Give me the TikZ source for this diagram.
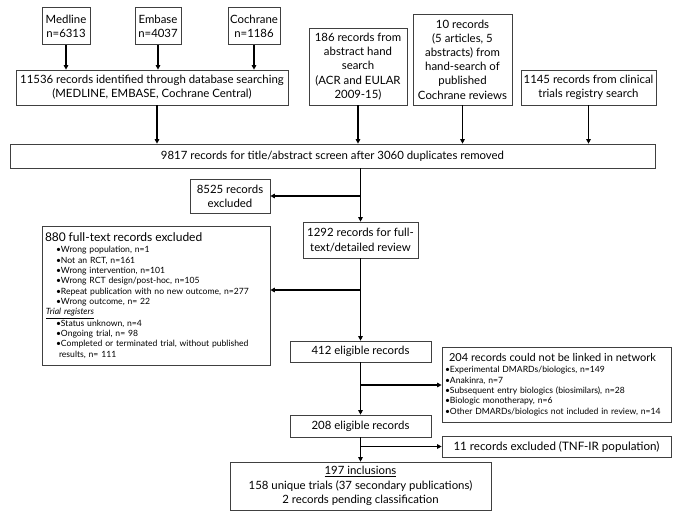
\documentclass[tikz,border=0pt]{standalone}
\usepackage{fontspec}
\setmainfont{Lato}
\usetikzlibrary{arrows.meta}
\newcommand{\smalllist}{\fontsize{8.6}{10.35}\selectfont}
\begin{document}
\begin{tikzpicture}[x=1pt,y=-1pt,
  box/.style={draw=black!75, line width=0.7pt, inner sep=1.5pt, align=center,
    font=\fontsize{11.4}{14.2}\selectfont},
  listbox/.style={draw=black!75, line width=0.7pt, inner sep=3pt, align=left,
    font=\smalllist},
  arr/.style={draw=black, line width=1.1pt, -{Triangle[length=4.5pt,width=4.5pt]}},
]
\useasboundingbox (0,0) rectangle (682,512);

% top sources
\node[box, minimum width=48, minimum height=37] (med) at (66,26) {Medline\\n=6313};
\node[box, minimum width=46, minimum height=37] (emb) at (158,26) {Embase\\n=4037};
\node[box, minimum width=52, minimum height=37] (coch) at (254,26) {Cochrane\\n=1186};
\node[box, minimum width=272, minimum height=35] (db) at (152,87.5) {11536 records identified through database searching\\(MEDLINE, EMBASE, Cochrane Central)};
\node[box, minimum width=98, minimum height=77] (abs) at (358,66.5) {186 records from\\abstract hand\\search\\(ACR and EULAR\\2009-15)};
\node[box, minimum width=99, minimum height=91] (hand) at (462.5,59.5) {10 records\\(5 articles, 5\\abstracts) from\\hand-search of\\published\\Cochrane reviews};
\node[box, minimum width=135, minimum height=35] (reg) at (588.5,87.5) {1145 records from clinical\\trials registry search};

% screening
\node[box, minimum width=645, minimum height=24] (screen) at (332.5,156) {9817 records for title/abstract screen after 3060 duplicates removed};
\node[box, minimum width=80, minimum height=34] (ex1) at (230,196) {8525 records\\excluded};
\node[box, minimum width=115, minimum height=36] (full) at (360.5,240) {1292 records for full-\\text/detailed review};

\node[listbox, minimum width=228, minimum height=139, text width=222] (ex2) at (156,295.5) {%
{\fontsize{12}{13}\selectfont 880 full-text records excluded}\\[1pt]
\hspace*{11pt}•Wrong population, n=1\\
\hspace*{11pt}•Not an RCT, n=161\\
\hspace*{11pt}•Wrong intervention, n=101\\
\hspace*{11pt}•Wrong RCT design/post-hoc, n=105\\
\hspace*{11pt}•Repeat publication with no new outcome, n=277\\
\hspace*{11pt}•Wrong outcome, n= 22\\
\hspace*{1pt}\underline{\textit{Trial registers}}\\[1pt]
\hspace*{11pt}•Status unknown, n=4\\
\hspace*{11pt}•Ongoing trial, n= 98\\
\hspace*{11pt}•Completed or terminated trial, without published\\
\hspace*{14pt}results, n= 111};

\node[box, minimum width=141, minimum height=21] (el1) at (360.5,351.5) {412 eligible records};
\node[listbox, minimum width=229, minimum height=75, text width=223] (nolink) at (556.5,384.5) {%
{\fontsize{11}{12}\selectfont\hspace*{4pt}204 records could not be linked in network}\\[1pt]
•Experimental DMARDs/biologics, n=149\\
•Anakinra, n=7\\
•Subsequent entry biologics (biosimilars), n=28\\
•Biologic monotherapy, n=6\\
•Other DMARDs/biologics not included in review, n=14};

\node[box, minimum width=141, minimum height=22] (el2) at (360.5,426) {208 eligible records};
\node[box, minimum width=229, minimum height=21, font=\fontsize{11.6}{13}\selectfont] (ex3) at (556.5,446.5) {11 records excluded (TNF-IR population)};
\node[box, minimum width=261, minimum height=48] (incl) at (360.5,486) {\underline{197 inclusions}\\158 unique trials (37 secondary publications)\\2 records pending classification};

% connectors top
\draw[arr] (med.south) -- (med.south |- db.north);
\draw[arr] (emb.south) -- (emb.south |- db.north);
\draw[arr] (coch.south) -- (coch.south |- db.north);
\coordinate (dbout) at (157,105);
\draw[arr] (dbout) -- (dbout |- screen.north);
\draw[arr] (abs.south) -- (abs.south |- screen.north);
\draw[arr] (hand.south) -- (hand.south |- screen.north);
\draw[arr] (reg.south) -- (reg.south |- screen.north);

% trunk
\draw[arr] (full.north |- screen.south) -- (full.north);
\draw[arr] (full.north |- ex1.east) -- (ex1.east);
\draw[arr] (full.south) -- (el1.north);
\coordinate (b2) at (360.5,290);
\draw[arr] (b2) -- (b2 -| ex2.east);
\draw[arr] (el1.south) -- (el2.north);
\coordinate (b3) at (360.5,385);
\draw[arr] (b3) -- (b3 -| nolink.west);
\draw[arr] (el2.south) -- (incl.north);
\draw[arr] (el2.south |- ex3.west) -- (ex3.west);
\end{tikzpicture}
\end{document}
